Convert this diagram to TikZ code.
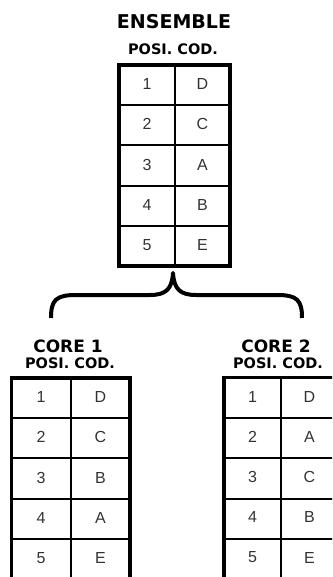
\documentclass[tikz,border=0pt]{standalone}
\usepackage{fontspec}
\setmainfont{Liberation Sans}
\newfontfamily\headfont{DejaVu Sans}
\begin{document}
\begin{tikzpicture}[x=1pt,y=-1pt,
  frame/.style={line width=3.6pt},
  rule/.style={line width=1.3pt},
  cell/.style={font=\fontsize{16}{16}\selectfont, text=black!80, inner sep=0pt},
  bigtitle/.style={font=\headfont\bfseries\fontsize{19}{19}\selectfont, inner sep=0pt},
  coretitle/.style={font=\headfont\bfseries\fontsize{17}{17}\selectfont, inner sep=0pt},
  colhead/.style={font=\headfont\bfseries\fontsize{14.5}{14.5}\selectfont, inner sep=0pt},
  bracket/.style={line width=4pt, line join=round}
]
\clip (0,0) rectangle (332,577);

% ---- ensemble table ----
\node[bigtitle] (enstitle) at (174,22) {ENSEMBLE};
\node[colhead] (enshead) at (173,49) {POSI. COD.};
\draw[rule] (175,65) -- (175,266);
\foreach \y in {105,145,186,226} \draw[rule] (119,\y) -- (230,\y);
\draw[frame] (119,65) rectangle (230,266);
\foreach \n/\c [count=\i] in {1/D,2/C,3/A,4/B,5/E} {
  \node[cell] (ens-p\i) at (147,{65+40.2*\i-21}) {\n};
  \node[cell] (ens-c\i) at (202.5,{65+40.2*\i-21}) {\c};
}

% ---- brace splitting into the two cores ----
\coordinate (split) at (173,273);
\coordinate (left end) at (51,318);
\coordinate (right end) at (302,318);
\draw[bracket] (left end) .. controls (51,300) and (56,295) .. (76,295)
  -- (150,295) .. controls (166,295) and (172,289) .. (split)
  .. controls (174,289) and (180,295) .. (196,295)
  -- (277,295) .. controls (297,295) and (302,300) .. (right end);

% ---- core 1 table ----
\node[coretitle] (c1title) at (68,346) {CORE 1};
\node[colhead] (c1head) at (70,363) {POSI. COD.};
\draw[rule] (71,378) -- (71,600);
\foreach \y in {418,458,499,539} \draw[rule] (11.5,\y) -- (130,\y);
\draw[frame] (11.5,378) rectangle (130,600);
\foreach \n/\c [count=\i] in {1/D,2/C,3/B,4/A,5/E} {
  \node[cell] (c1-p\i) at (41,{378+40.2*\i-21}) {\n};
  \node[cell] (c1-c\i) at (100.5,{378+40.2*\i-21}) {\c};
}

% ---- core 2 table ----
\node[coretitle] (c2title) at (276,346) {CORE 2};
\node[colhead] (c2head) at (278,363) {POSI. COD.};
\draw[rule] (281,377.5) -- (281,600);
\foreach \y in {418,458,499,539} \draw[rule] (224,\y) -- (338,\y);
\draw[frame] (224,377.5) rectangle (338,600);
\foreach \n/\c [count=\i] in {1/D,2/A,3/C,4/B,5/E} {
  \node[cell] (c2-p\i) at (252.5,{377.5+40.2*\i-21}) {\n};
  \node[cell] (c2-c\i) at (309.5,{377.5+40.2*\i-21}) {\c};
}
\end{tikzpicture}
\end{document}
